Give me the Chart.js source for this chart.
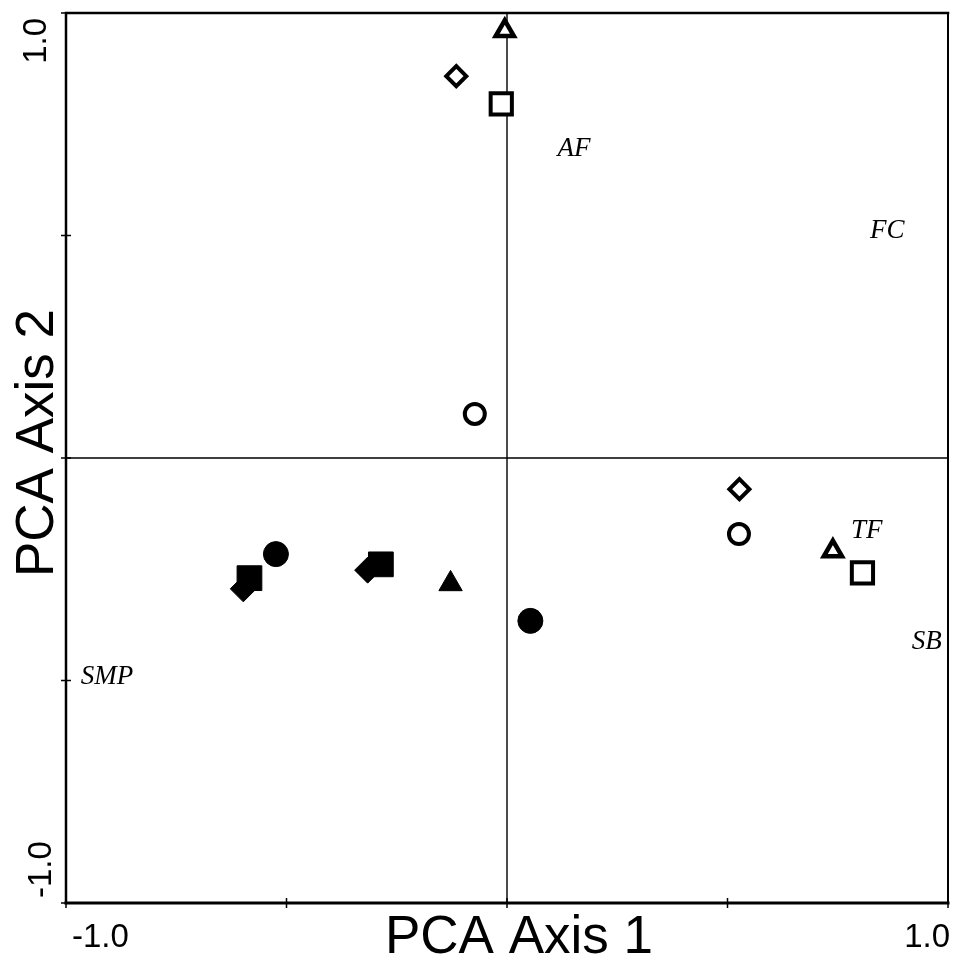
<!DOCTYPE html>
<html>
<head>
<meta charset="utf-8">
<script src="https://cdn.jsdelivr.net/npm/chart.js@4.4.1/dist/chart.umd.min.js"></script>
<style>
  html, body { margin: 0; padding: 0; background: #fff; }
  #wrap { width: 956px; height: 965px; }
</style>
</head>
<body>
<div id="wrap"><canvas id="pcaChart" width="956" height="965"></canvas></div>
<script>
// ==== DATA ====
const axisTicks = [-1, -0.5, 0, 0.5, 1];
const tickLabels = ["-1.0", "1.0"]; // only the ends are labelled
const xTitle = "PCA Axis 1";
const yTitle = "PCA Axis 2";

// open symbols
const openCircle = [{ x: -0.073, y: 0.099 }, { x: 0.526, y: -0.171 }];
const openTriangle = [{ x: -0.005, y: 0.960 }, { x: 0.739, y: -0.209 }];
const openSquare = [{ x: -0.013, y: 0.796 }, { x: 0.806, y: -0.258 }];
const openDiamond = [{ x: -0.115, y: 0.858 }, { x: 0.527, y: -0.070 }];

// filled symbols
const filledCircle = [{ x: -0.524, y: -0.216 }, { x: 0.053, y: -0.366 }];
const filledTriangle = [{ x: -0.128, y: -0.283 }];
const filledSquare = [{ x: -0.584, y: -0.270 }, { x: -0.286, y: -0.239 }];
const filledDiamond = [{ x: -0.598, y: -0.294 }, { x: -0.316, y: -0.252 }];

// variable names
const varNames = ["AF", "FC", "TF", "SB", "SMP"];
const varX = [0.152, 0.862, 0.816, 0.952, -0.907];
const varY = [0.694, 0.510, -0.164, -0.413, -0.492];

// ==== PLUGIN: frame, zero lines, labels ====
const pcaFrame = {
  id: "pcaFrame",
  beforeDatasetsDraw(chart) {
    const { ctx, chartArea: a, scales: { x, y } } = chart;
    ctx.save();
    ctx.strokeStyle = "#000";
    ctx.lineWidth = 1.4;
    ctx.beginPath();
    ctx.moveTo(x.getPixelForValue(0), a.top);
    ctx.lineTo(x.getPixelForValue(0), a.bottom);
    ctx.moveTo(a.left, y.getPixelForValue(0));
    ctx.lineTo(a.right, y.getPixelForValue(0));
    ctx.stroke();
    ctx.restore();
  },
  afterDatasetsDraw(chart) {
    const { ctx, scales: { x, y } } = chart;
    ctx.save();
    ctx.fillStyle = "#000";
    ctx.font = "italic 27px 'Liberation Serif', 'Times New Roman', serif";
    ctx.textAlign = "center";
    ctx.textBaseline = "middle";
    varNames.forEach((n, i) => {
      ctx.fillText(n, x.getPixelForValue(varX[i]), y.getPixelForValue(varY[i]));
    });
    ctx.restore();
  },
  afterDraw(chart) {
    const { ctx, chartArea: a, scales: { x, y } } = chart;
    ctx.save();
    ctx.strokeStyle = "#000";
    ctx.lineCap = "square";

    // frame
    ctx.lineWidth = 2.5;
    ctx.beginPath();
    ctx.moveTo(a.left, a.bottom);
    ctx.lineTo(a.left, a.top);
    ctx.lineTo(a.right, a.top);
    ctx.stroke();
    ctx.lineWidth = 2;
    ctx.beginPath();
    ctx.moveTo(a.right, a.top);
    ctx.lineTo(a.right, a.bottom);
    ctx.stroke();
    ctx.lineWidth = 3;
    ctx.beginPath();
    ctx.moveTo(a.left, a.bottom);
    ctx.lineTo(a.right, a.bottom);
    ctx.stroke();

    // tick marks crossing the axes
    ctx.lineWidth = 1.5;
    ctx.lineCap = "butt";
    ctx.beginPath();
    axisTicks.forEach(v => {
      const px = x.getPixelForValue(v);
      ctx.moveTo(px, a.bottom - 5);
      ctx.lineTo(px, a.bottom + 5);
      const py = y.getPixelForValue(v);
      ctx.moveTo(a.left - 5, py);
      ctx.lineTo(a.left + 5, py);
    });
    ctx.stroke();

    // tick labels
    ctx.fillStyle = "#000";
    ctx.font = "33px 'Liberation Sans', Arial, sans-serif";
    ctx.textBaseline = "alphabetic";
    ctx.textAlign = "left";
    ctx.fillText(tickLabels[0], x.getPixelForValue(-1) + 6, a.bottom + 44);
    ctx.textAlign = "right";
    ctx.fillText(tickLabels[1], x.getPixelForValue(1) + 2, a.bottom + 44);

    // rotated y tick labels
    ctx.save();
    ctx.translate(a.left - 20, y.getPixelForValue(1) + 5);
    ctx.rotate(-Math.PI / 2);
    ctx.textAlign = "right";
    ctx.fillText(tickLabels[1], 0, 0);
    ctx.restore();
    ctx.save();
    ctx.translate(a.left - 15, y.getPixelForValue(-1) - 5);
    ctx.rotate(-Math.PI / 2);
    ctx.textAlign = "left";
    ctx.fillText(tickLabels[0], 0, 0);
    ctx.restore();

    // axis titles
    ctx.font = "53px 'Liberation Sans', Arial, sans-serif";
    ctx.textAlign = "center";
    ctx.fillText(xTitle, (a.left + a.right) / 2 + 12, a.bottom + 50);
    ctx.save();
    ctx.translate(a.left - 13, (a.top + a.bottom) / 2 - 15);
    ctx.rotate(-Math.PI / 2);
    ctx.fillText(yTitle, 0, 0);
    ctx.restore();

    ctx.restore();
  }
};

// ==== CHART ====
function openSet(label, data, style, r, bw) {
  return {
    label, data,
    pointStyle: style,
    pointRadius: r,
    pointBorderWidth: bw,
    pointBackgroundColor: "#fff",
    pointBorderColor: "#000",
    showLine: false,
  };
}
function filledSet(label, data, style, r) {
  return {
    label, data,
    pointStyle: style,
    pointRadius: r,
    pointBorderWidth: 1,
    pointBackgroundColor: "#000",
    pointBorderColor: "#000",
    showLine: false,
  };
}

new Chart(document.getElementById("pcaChart").getContext("2d"), {
  type: "scatter",
  data: {
    datasets: [
      // first in list is drawn on top
      filledSet("filled square", filledSquare, "rect", 17.5),
      filledSet("filled diamond", filledDiamond, "rectRot", 13),
      filledSet("filled circle", filledCircle, "circle", 12.5),
      filledSet("filled triangle", filledTriangle, "triangle", 13.5),
      openSet("open circle", openCircle, "circle", 10, 4),
      openSet("open triangle", openTriangle, "triangle", 10.5, 4.5),
      openSet("open square", openSquare, "rect", 15, 4),
      openSet("open diamond", openDiamond, "rectRot", 10, 4),
    ],
  },
  options: {
    responsive: false,
    animation: false,
    events: [],
    layout: { autoPadding: false, padding: { left: 66, right: 8, top: 13, bottom: 62 } },
    plugins: {
      legend: { display: false },
      tooltip: { enabled: false },
    },
    scales: {
      x: { type: "linear", min: -1, max: 1, display: false },
      y: { type: "linear", min: -1, max: 1, display: false },
    },
  },
  plugins: [pcaFrame],
});
</script>
</body>
</html>
